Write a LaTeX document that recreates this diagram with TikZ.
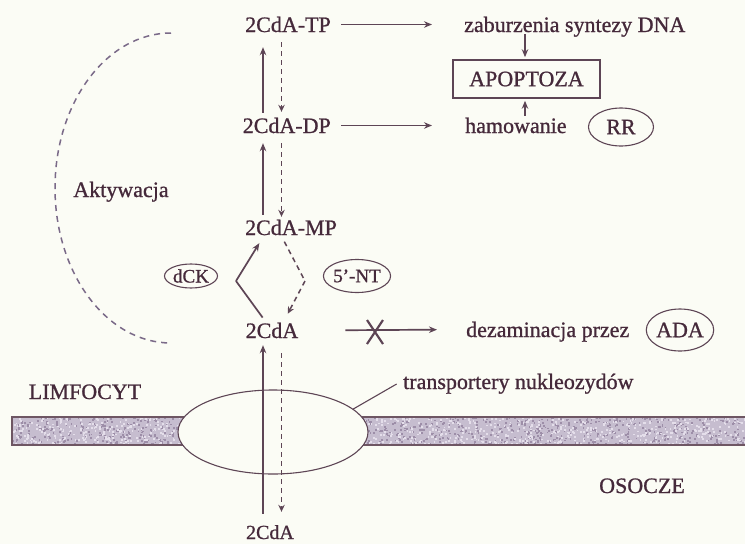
\documentclass[tikz,border=0pt]{standalone}
\usepackage{fontspec}
\setmainfont{Liberation Serif}[FakeBold=0.9]
\usetikzlibrary{arrows.meta,shapes.geometric,calc}
\definecolor{bg}{HTML}{FBFCF5}
\definecolor{ink}{HTML}{45293A}
\definecolor{ln}{HTML}{5D4555}
\definecolor{dashc}{HTML}{7A6A88}
\definecolor{memb}{HTML}{C6BDCF}
\definecolor{membd}{HTML}{9D8EA8}
\definecolor{membl}{HTML}{E4DEEA}
\definecolor{membb}{HTML}{6E5663}
\tikzset{
  txt/.style={font=\fontsize{22}{26}\selectfont, text=ink, inner sep=2pt, text height=15pt, text depth=0pt, anchor=base},
  oval/.style={ellipse, draw=ln, line width=1.1pt, font=\fontsize{22}{26}\selectfont, text=ink, inner sep=0pt},
  arr/.style={draw=ln, line width=1.7pt, -{Stealth[length=8pt,width=6.5pt]}},
  darr/.style={draw=ln, line width=1.5pt, dash pattern=on 5pt off 4pt, -{Stealth[length=7pt,width=6.5pt]}},
  pline/.style={draw=ln, line width=1.7pt},
  dpline/.style={draw=ln, line width=1.5pt, dash pattern=on 5pt off 4pt},
}
\begin{document}
\begin{tikzpicture}[x=1pt,y=-1pt]
\fill[bg] (0,0) rectangle (745,544);
\path[use as bounding box] (0,0) rectangle (745,544);

% membrane
\fill[memb] (12,417) rectangle (750,445);
\begin{scope}
\clip (12,417) rectangle (745,445);
\pgfmathsetseed{7}
\foreach \i in {1,...,1100} { \fill[membd] (rnd*745, 417+rnd*28) rectangle +(1.8,1.8); }
\foreach \i in {1,...,1000} { \fill[membl] (rnd*745, 417+rnd*28) rectangle +(1.8,1.8); }
\end{scope}
\draw[membb, line width=2.4pt] (750,417) -- (12,417) -- (12,445) -- (750,445);

% transporter
\node[ellipse, draw=ln, line width=1.1pt, fill=bg, minimum width=190pt, minimum height=84pt, inner sep=0pt] (tr) at (273,432) {};

% texts
\node[txt, anchor=base east] (tp) at (333,32) {2CdA-TP};
\node[txt, anchor=base east] (dp) at (333,133) {2CdA-DP};
\node[txt] (mp) at (291,235) {2CdA-MP};
\node[txt] (cda) at (272,338) {2CdA};
\node[txt, font=\fontsize{20}{24}\selectfont] (cdb) at (270,539) {2CdA};
\node[txt, anchor=base west] (zab) at (462,32) {zaburzenia syntezy DNA};
\node[txt, anchor=base west] (ham) at (463,133) {hamowanie};
\node[txt, anchor=base west] (dez) at (464,337) {dezaminacja przez};
\node[txt, anchor=base west] (trt) at (401,389) {transportery nukleozydów};
\node[txt] (limf) at (85,399) {LIMFOCYT};
\node[txt] (osocze) at (642,493) {OSOCZE};
\node[txt] (akt) at (121,197) {Aktywacja};

\node[draw=ln, line width=1.6pt, minimum width=147pt, minimum height=38pt, inner sep=0pt, font=\fontsize{22}{26}\selectfont, text=ink] (apo) at (526.5,79) {APOPTOZA};

\node[oval, minimum width=65pt, minimum height=38pt] (rr) at (621,127) {RR};
\node[oval, minimum width=67pt, minimum height=42pt] (ada) at (680,330) {ADA};
\node[oval, minimum width=53pt, minimum height=24pt, font=\fontsize{19}{22}\selectfont] (dck) at (191,276) {dCK};
\node[oval, minimum width=61pt, minimum height=33pt, font=\fontsize{19}{22}\selectfont] (nt) at (357,276) {5’-NT};

% columns
\coordinate (cs) at (263,0);
\coordinate (cd) at (281.5,0);
\coordinate (ca) at (525,0);

% vertical arrows
\draw[arr, shorten <=3pt, shorten >=13pt] (cs |- dp.north) -- (cs |- tp.south);
\draw[darr, shorten <=8pt, shorten >=4pt] (cd |- tp.south) -- (cd |- dp.north);
\draw[arr, shorten <=3pt, shorten >=8pt] (cs |- mp.north) -- (cs |- dp.south);
\draw[darr, shorten <=8pt, shorten >=1pt] (cd |- dp.south) -- (cd |- mp.north);
\draw[arr, shorten <=8pt, shorten >=5pt] (cs |- cdb.north) -- (cs |- cda.south);
\draw[darr, shorten <=13pt, shorten >=10pt] (cd |- cda.south) -- (cd |- cdb.north);

% horizontal arrows
\draw[arr, shorten <=8pt, shorten >=30pt] (tp.east) -- (zab.west);
\draw[arr, shorten <=8pt, shorten >=31pt] (dp.east) -- (ham.west);
\draw[arr, shorten <=45pt, shorten >=27pt] (cda.east) -- (dez.west);
\coordinate (xm) at (375,332);
\draw[ln, line width=2.2pt] ($(xm)+(-8,-12)$) -- ($(xm)+(8,12)$);
\draw[ln, line width=2.2pt] ($(xm)+(8,-12)$) -- ($(xm)+(-8,12)$);

% apoptoza arrows
\draw[arr, line width=1.2pt, shorten >=2pt] (ca |- zab.south) -- (ca |- apo.north);
\draw[arr, line width=1.2pt, shorten >=2pt] (ca |- ham.north) -- (ca |- apo.south);

% dCK and 5'-NT chevrons
\coordinate (k1) at (236,281);
\coordinate (k2) at (305,281);
\draw[pline, shorten <=4pt] ([xshift=-7pt]cda.north) -- (k1);
\draw[arr, shorten >=7pt] (k1) -- ([xshift=-28pt]mp.south);
\draw[dpline, shorten <=5pt] ([xshift=-9pt]mp.south) -- (k2);
\draw[darr, shorten >=8pt] (k2) -- ([xshift=12pt]cda.north);

% transporter leader
\draw[ln, line width=1.1pt, shorten >=5pt] (tr.16) -- (trt.west);

% activation arc
\draw[dashc, line width=1.5pt, dash pattern=on 6pt off 5pt] (171,33) arc[start angle=270, end angle=90, x radius=116, y radius=155];
\end{tikzpicture}
\end{document}
